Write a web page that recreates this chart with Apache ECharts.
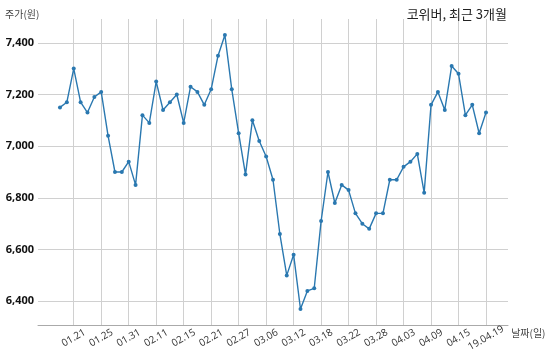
<!DOCTYPE html>
<html><head><meta charset="utf-8">
<script src="https://cdn.jsdelivr.net/npm/echarts@6/dist/echarts.min.js"></script>
<style>html,body{margin:0;padding:0;background:#fff}#c{width:550px;height:360px}</style>
</head><body><div id="c"></div>
<script>
const dates = ["01.17","01.18","01.21","01.22","01.23","01.24","01.25","01.28","01.29","01.30","01.31",
"02.01","02.07","02.08","02.11","02.12","02.13","02.14","02.15","02.18","02.19","02.20","02.21","02.22","02.25","02.26","02.27","02.28",
"03.04","03.05","03.06","03.07","03.08","03.11","03.12","03.13","03.14","03.15","03.18","03.19","03.20","03.21","03.22","03.25","03.26","03.27","03.28","03.29",
"04.01","04.02","04.03","04.04","04.05","04.08","04.09","04.10","04.11","04.12","04.15","04.16","04.17","04.18","19.04.19"];
const prices = [7150,7170,7300,7170,7130,7190,7210,7040,6900,6900,6940,
6850,7120,7090,7250,7140,7170,7200,7090,7230,7210,7160,7220,7350,7430,7220,7050,6890,
7100,7020,6960,6870,6660,6500,6580,6370,6440,6450,6710,6900,6780,6850,6830,6740,6700,6680,6740,6740,
6870,6870,6920,6940,6970,6820,7160,7210,7140,7310,7280,7120,7160,7050,7130];
const xTickIdx = [2,6,10,14,18,22,26,30,34,38,42,46,50,54,58,62];
const yTicks = [6400,6600,6800,7000,7200,7400];
const title = "코위버, 최근 3개월";
const yName = "주가(원)";
const xName = "날짜(일)";

const chart = echarts.init(document.getElementById('c'), null, {renderer:'canvas'});
chart.setOption({
  animation:false,
  title:[
    {text:title, right:38, top:3, textStyle:{fontFamily:'Noto Sans CJK KR', fontSize:13, fontWeight:'normal', color:'#222'}},
    {text:yName, left:5, top:9, padding:0, textStyle:{fontFamily:'Noto Sans CJK KR', fontSize:10, fontWeight:'normal', color:'#444'}}
  ],
  grid:{left:38, right:42, top:19, bottom:35, containLabel:false},
  xAxis:{type:'value', min:-3.2, max:65.2,
    name:xName, nameLocation:'end', nameGap:3,
    nameTextStyle:{fontFamily:'Noto Sans CJK KR', fontSize:10, color:'#444', verticalAlign:'top', padding:[3,0,0,0]},
    axisLine:{show:true, lineStyle:{color:'#aaa', width:1}},
    axisTick:{show:false, customValues:xTickIdx},
    axisLabel:{customValues:xTickIdx, rotate:30, align:'center', verticalAlign:'middle', margin:13,
      fontFamily:'Open Sans', fontSize:10, color:'#333',
      formatter:v=>dates[Math.round(v)]},
    splitLine:{show:true, lineStyle:{color:'#d0d0d0', width:1}}
  },
  yAxis:{type:'value', min:6308, max:7492,
    axisLine:{show:false}, axisTick:{show:false, customValues:yTicks},
    axisLabel:{customValues:yTicks, margin:4, fontFamily:'Open Sans', fontSize:11, fontWeight:'bold', color:'#111',
      formatter:v=>v.toLocaleString('en-US')},
    splitLine:{show:true, lineStyle:{color:'#d0d0d0', width:1}}
  },
  series:[{type:'line', name:'주가', data:prices.map((p,i)=>[i,p]), symbol:'circle', symbolSize:4,
    lineStyle:{color:'#2a78b0', width:1.4}, itemStyle:{color:'#2a78b0'}}]
});
</script></body></html>
